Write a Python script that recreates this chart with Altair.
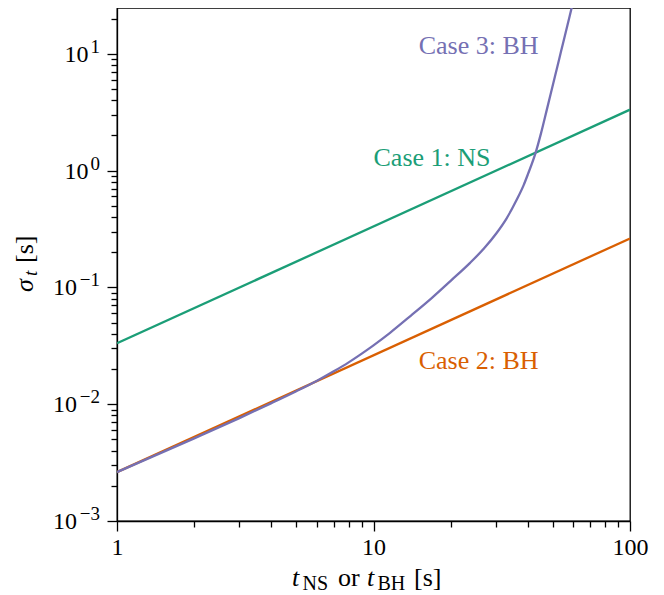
import altair as alt
import pandas as pd

# ---------------- data ----------------
case1_t = [1, 100]
case1_sigma = [0.0332, 3.32]

case2_t = [1, 100]
case2_sigma = [0.00262, 0.262]

case3_t = [1, 2, 3, 4, 5, 6, 7, 8, 9, 10, 11.6, 14, 16.9, 20, 23.8, 27, 30.2,
           33, 36.2, 38.5, 40, 42.9, 45, 47.4, 49, 51, 53, 54.7, 57, 59.6, 62]
case3_sigma = [0.00262, 0.0051, 0.0076, 0.0102, 0.0129, 0.0158, 0.0191, 0.0228,
               0.0271, 0.0319, 0.0408, 0.0573, 0.0813, 0.1138, 0.162, 0.216,
               0.292, 0.388, 0.564, 0.75, 0.93, 1.43, 2.09, 3.32, 4.47, 6.41,
               9.06, 12.05, 17.4, 26.1, 37]

label_text = ["Case 1: NS", "Case 2: BH", "Case 3: BH"]
label_t = [10, 15, 15]
label_sigma = [1.09, 0.02, 10]

colors = ["#1b9e77", "#d95f02", "#7570b3"]

x_major = [1, 10, 100]
x_major_labels = ["1", "10", "100"]
x_minor = [2, 3, 4, 5, 6, 7, 8, 9, 20, 30, 40, 50, 60, 70, 80, 90]

y_major = [0.001, 0.01, 0.1, 1, 10]
y_label_base = ["10", "10", "10", "10", "10"]
y_label_exp = ["\u22123", "\u22122", "\u22121", "0", "1"]
y_minor = [round(k * 10.0 ** e, 6) for e in range(-3, 2) for k in range(2, 10)
           if k * 10.0 ** e <= 24]

x_domain = [1, 100]
y_domain = [0.001, 24.6]

FONT = "Liberation Serif"


def label_expr(vals, labs):
    expr = "''"
    for v, l in reversed(list(zip(vals, labs))):
        expr = f"(abs(datum.value/{v} - 1) < 1e-6) ? '{l}' : {expr}"
    return expr


x_scale = alt.Scale(type="log", domain=x_domain, nice=False, zero=False)
y_scale = alt.Scale(type="log", domain=y_domain, nice=False, zero=False)

common = dict(title=None, grid=False, labelFlush=False, labelOverlap=False,
              labelFont=FONT, labelFontSize=24, labelColor="black",
              domainColor="black", domainWidth=1.3, tickColor="black",
              tickWidth=1.3)

x_axis_major = alt.Axis(values=x_major, orient="bottom",
                        labelExpr=label_expr(x_major, x_major_labels),
                        tickSize=10, labelPadding=4, **common)
y_axis_major = alt.Axis(values=y_major, orient="left", labels=False,
                        tickSize=10, **common)
x_axis_minor = alt.Axis(values=x_minor, orient="bottom", labels=False,
                        domain=False, tickSize=6, title=None, grid=False,
                        tickColor="black", tickWidth=1.3)
y_axis_minor = alt.Axis(values=y_minor, orient="left", labels=False,
                        domain=False, tickSize=6, title=None, grid=False,
                        tickColor="black", tickWidth=1.3)

df1 = pd.DataFrame({"t": case1_t, "sigma": case1_sigma})
df2 = pd.DataFrame({"t": case2_t, "sigma": case2_sigma})
df3 = pd.DataFrame({"t": case3_t, "sigma": case3_sigma})
dfl = pd.DataFrame({"t": label_t, "sigma": label_sigma, "text": label_text})

LW = 2.3
line1 = alt.Chart(df1).mark_line(clip=True, strokeWidth=LW, color=colors[0]).encode(
    x=alt.X("t:Q", scale=x_scale, axis=x_axis_major),
    y=alt.Y("sigma:Q", scale=y_scale, axis=y_axis_major),
)
line2 = alt.Chart(df2).mark_line(clip=True, strokeWidth=LW, color=colors[1]).encode(
    x=alt.X("t:Q", scale=x_scale, axis=x_axis_minor),
    y=alt.Y("sigma:Q", scale=y_scale, axis=y_axis_minor),
)
line3 = alt.Chart(df3).mark_line(clip=True, strokeWidth=LW, color=colors[2],
                                 interpolate="monotone").encode(
    x=alt.X("t:Q", scale=x_scale, axis=None),
    y=alt.Y("sigma:Q", scale=y_scale, axis=None),
)

labels = []
for i in range(3):
    labels.append(
        alt.Chart(dfl.iloc[[i]]).mark_text(
            font=FONT, fontSize=26, align="left", baseline="alphabetic",
            color=colors[i],
        ).encode(
            x=alt.X("t:Q", scale=x_scale, axis=None),
            y=alt.Y("sigma:Q", scale=y_scale, axis=None),
            text="text:N",
        )
    )

# y tick labels: "10" with a real superscript exponent
SUP_SIZE = 19
LABEL_RIGHT = -17


def sup_width(s):
    return sum((0.6 if c == "\u2212" else 0.5) * SUP_SIZE for c in s) + 2


ytick_layers = []
dfy = pd.DataFrame({"v": y_major, "base": y_label_base, "exp": y_label_exp})
for i in range(len(y_major)):
    row = dfy.iloc[[i]]
    w = sup_width(y_label_exp[i])
    ytick_layers.append(
        alt.Chart(row).mark_text(
            font=FONT, fontSize=24, align="right", baseline="alphabetic",
            color="black", dx=-w, dy=8,
        ).encode(
            x=alt.value(LABEL_RIGHT),
            y=alt.Y("v:Q", scale=y_scale, axis=None),
            text="base:N",
        )
    )
    ytick_layers.append(
        alt.Chart(row).mark_text(
            font=FONT, fontSize=SUP_SIZE, align="right", baseline="alphabetic",
            color="black", dy=-1,
        ).encode(
            x=alt.value(LABEL_RIGHT),
            y=alt.Y("v:Q", scale=y_scale, axis=None),
            text="exp:N",
        )
    )

dummy = pd.DataFrame({"a": [0]})


def piece(text, x, y, size, italic=False, angle=0):
    kw = dict(font=FONT, fontSize=size, align="left", baseline="alphabetic",
              color="black", fontStyle="italic" if italic else "normal")
    if angle:
        kw["angle"] = angle
    return alt.Chart(dummy).mark_text(**kw).encode(
        x=alt.value(x), y=alt.value(y), text=alt.value(text)
    )


# x-axis title: t_NS or t_BH [s]
xt = [
    piece("t", 175, 578, 26, italic=True),
    piece("NS", 185.5, 582, 20),
    piece("or", 221, 578, 26),
    piece("t", 250, 578, 26, italic=True),
    piece("BH", 260.5, 582, 20),
    piece("[s]", 297, 578, 26),
]
# y-axis title: sigma_t [s] (rotated)
yt = [
    piece("\u03c3", -84, 284, 26, italic=True, angle=270),
    piece("t", -80, 268, 19, italic=True, angle=270),
    piece("[s]", -84, 255, 26, angle=270),
]

chart = alt.layer(line1, line2, line3, *labels, *ytick_layers, *xt, *yt).resolve_axis(
    x="independent", y="independent"
).properties(
    width=513,
    height=513,
    autosize=alt.AutoSizeParams(type="none"),
    padding={"left": 109, "top": 0, "right": 26, "bottom": 72},
    background="white",
).configure_view(stroke="black", strokeWidth=1.3)

chart.save("out.html", embed_options={"renderer": "svg", "actions": False})
